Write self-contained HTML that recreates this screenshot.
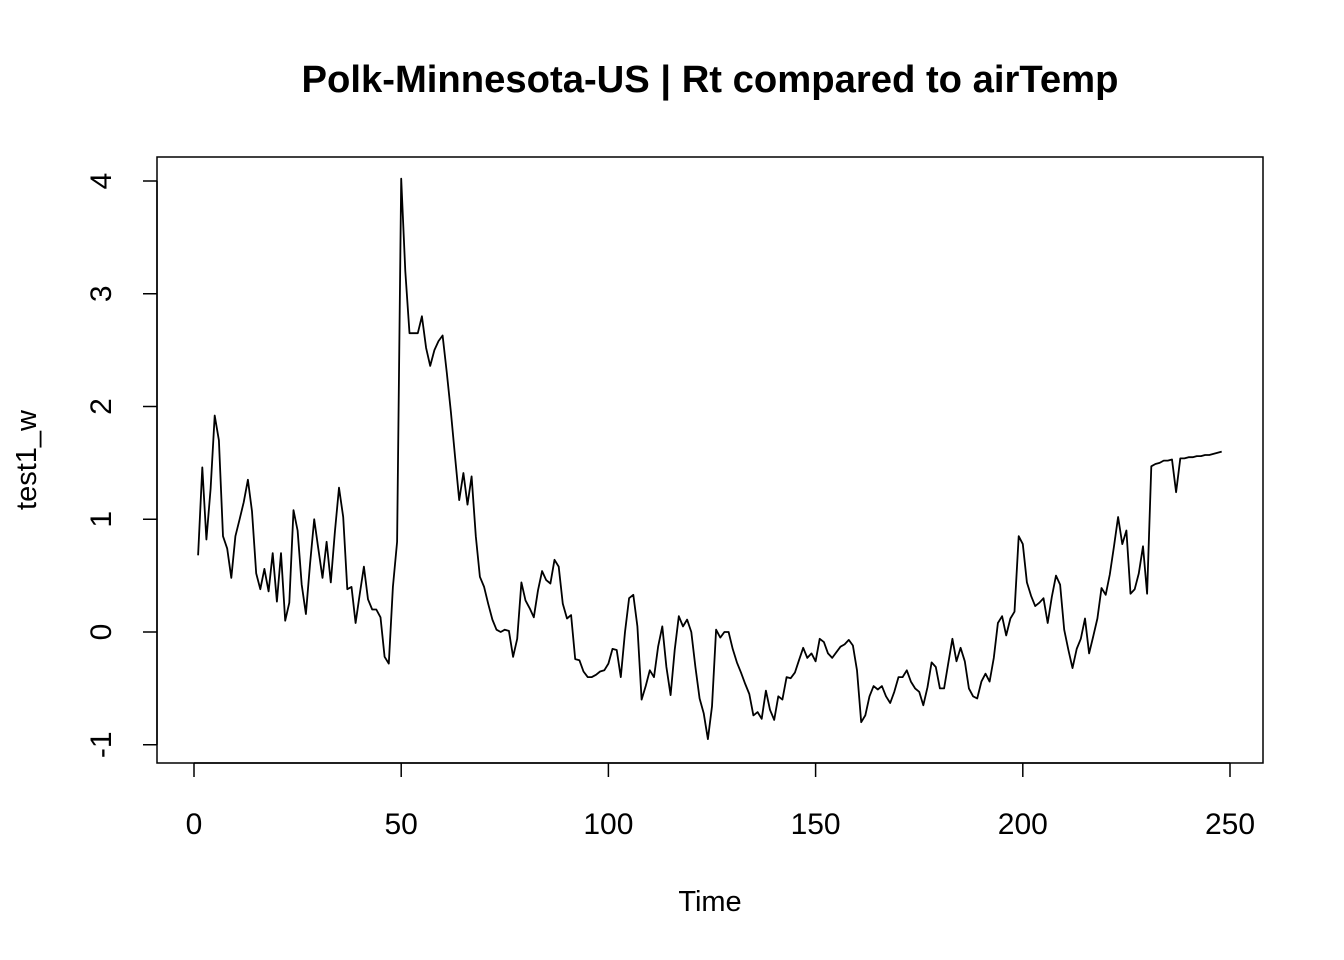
<!DOCTYPE html>
<html><head><meta charset="utf-8"><style>
html,body{margin:0;padding:0;background:#fff;}
svg{display:block;font-family:"Liberation Sans",Arial,sans-serif;}
</style></head><body>
<svg id="chart" width="1344" height="960" viewBox="0 0 1344 960">
<rect width="1344" height="960" fill="#fff"/>
<text x="710" y="92" text-anchor="middle" font-size="38" font-weight="bold" textLength="817" lengthAdjust="spacingAndGlyphs">Polk-Minnesota-US | Rt compared to airTemp</text>
<rect x="157" y="157" width="1106" height="606" fill="none" stroke="#000" stroke-width="1.5"/>
<g id="xaxis"></g>
<g id="yaxis"></g>
<text x="710" y="911" text-anchor="middle" font-size="29">Time</text>
<text transform="translate(36,460) rotate(-90)" text-anchor="middle" font-size="29">test1_w</text>
<path id="line" fill="none" stroke="#000" stroke-width="1.8" stroke-linejoin="round"/>
</svg>
<script>
const values = [0.68,1.46,0.82,1.27,1.92,1.7,0.85,0.74,0.48,0.85,1.0,1.15,1.35,1.07,0.52,0.38,0.56,0.36,0.7,0.27,0.7,0.1,0.26,1.08,0.9,0.42,0.16,0.6,1.0,0.74,0.48,0.8,0.44,0.89,1.28,1.02,0.38,0.4,0.08,0.34,0.58,0.29,0.2,0.2,0.13,-0.22,-0.28,0.4,0.8,4.02,3.2,2.65,2.65,2.65,2.8,2.52,2.36,2.5,2.58,2.63,2.3,1.95,1.55,1.17,1.41,1.13,1.38,0.85,0.49,0.4,0.25,0.11,0.02,0.0,0.02,0.01,-0.22,-0.06,0.44,0.28,0.21,0.13,0.37,0.54,0.46,0.43,0.64,0.58,0.25,0.12,0.15,-0.24,-0.25,-0.35,-0.4,-0.4,-0.38,-0.35,-0.34,-0.28,-0.15,-0.16,-0.4,0.0,0.3,0.33,0.05,-0.6,-0.48,-0.34,-0.4,-0.13,0.05,-0.31,-0.56,-0.16,0.14,0.05,0.11,0.0,-0.31,-0.59,-0.72,-0.95,-0.66,0.02,-0.05,0.0,0.0,-0.15,-0.27,-0.36,-0.46,-0.55,-0.74,-0.71,-0.77,-0.52,-0.69,-0.78,-0.57,-0.6,-0.4,-0.41,-0.36,-0.25,-0.14,-0.23,-0.19,-0.26,-0.06,-0.09,-0.19,-0.23,-0.18,-0.13,-0.11,-0.07,-0.12,-0.34,-0.8,-0.74,-0.57,-0.48,-0.51,-0.48,-0.57,-0.63,-0.53,-0.4,-0.4,-0.34,-0.44,-0.5,-0.53,-0.65,-0.49,-0.27,-0.31,-0.5,-0.5,-0.28,-0.06,-0.26,-0.14,-0.26,-0.5,-0.57,-0.59,-0.44,-0.37,-0.44,-0.23,0.08,0.14,-0.03,0.12,0.18,0.85,0.78,0.44,0.32,0.23,0.26,0.3,0.08,0.31,0.5,0.42,0.02,-0.16,-0.32,-0.15,-0.06,0.12,-0.19,-0.04,0.12,0.39,0.33,0.51,0.76,1.02,0.78,0.9,0.34,0.38,0.52,0.76,0.34,1.47,1.49,1.5,1.52,1.52,1.53,1.24,1.54,1.54,1.55,1.55,1.56,1.56,1.57,1.57,1.58,1.59,1.6];
const xTicks = [0,50,100,150,200,250];
const yTicks = [-1,0,1,2,3,4];
const NS='http://www.w3.org/2000/svg';
function xs(t){return 194 + (t-0)*(1230-194)/250;}
function ys(v){return 632 - v*(632-181)/4;}
const xa=document.getElementById('xaxis'), ya=document.getElementById('yaxis');
function mk(tag,attrs,parent){const e=document.createElementNS(NS,tag);for(const k in attrs)e.setAttribute(k,attrs[k]);parent.appendChild(e);return e;}
const xl=mk('line',{x1:xs(xTicks[0]),x2:xs(xTicks[xTicks.length-1]),y1:763,y2:763,stroke:'#000','stroke-width':1.5},xa);


xTicks.forEach(t=>{
  const l=mk('line',{x1:xs(t),x2:xs(t),y1:763,y2:777,stroke:'#000','stroke-width':1.5},xa);
  
  
  const tx=mk('text',{x:xs(t),y:834,'text-anchor':'middle','font-size':30},xa);
  tx.textContent=t;
  
  
});
const yl=mk('line',{x1:157,x2:157,y1:ys(yTicks[0]),y2:ys(yTicks[yTicks.length-1]),stroke:'#000','stroke-width':1.5},ya);


yTicks.forEach(v=>{
  const l=mk('line',{x1:143,x2:157,y1:ys(v),y2:ys(v),stroke:'#000','stroke-width':1.5},ya);
  
  
  const tx=mk('text',{transform:`translate(111,${ys(v)}) rotate(-90)`,'text-anchor':'middle','font-size':30},ya);
  tx.textContent=v<0?'-'+Math.abs(v):String(v);
  
  
});
document.getElementById('line').setAttribute('d',values.map((v,i)=>(i?'L':'M')+xs(i+1).toFixed(1)+','+ys(v).toFixed(1)).join(''));
</script>
</body></html>
